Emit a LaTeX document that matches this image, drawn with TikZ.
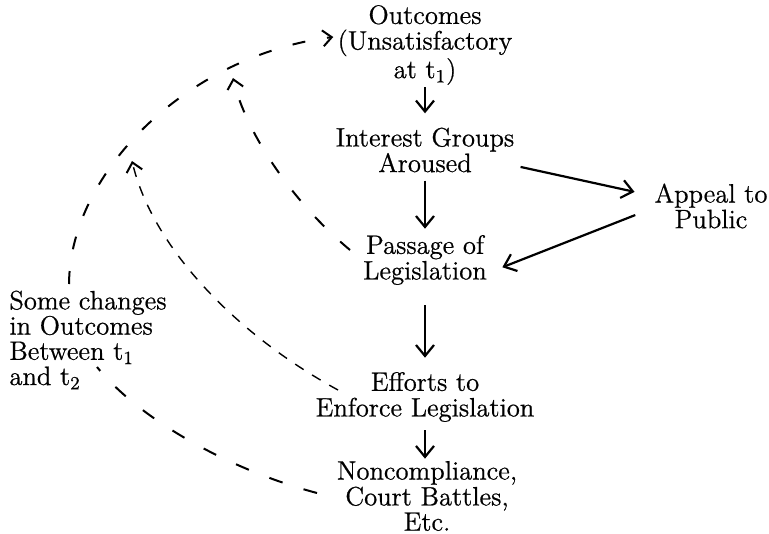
\documentclass[tikz,border=0pt]{standalone}
\usepackage{fontspec}
\setmainfont{Latin Modern Roman}[FakeBold=0.7]
\usetikzlibrary{arrows.meta}
\begin{document}
\begin{tikzpicture}[x=0.5pt,y=-0.5pt,
  lbl/.style={align=center, inner sep=2pt, font=\fontsize{13.3}{12.8}\selectfont},
  lblL/.style={align=left, inner sep=2pt, font=\fontsize{13.3}{12.6}\selectfont},
  arr/.style={line width=1.1pt, -{Straight Barb[length=5.5pt,width=9pt,line width=1.1pt]}},
  dsh/.style={line width=1pt, dash pattern=on 6.5pt off 11pt, -{Straight Barb[length=4.5pt,width=8pt,line width=1pt]}},
  dshfine/.style={line width=0.7pt, dash pattern=on 5pt off 5pt, -{Straight Barb[length=4.5pt,width=8pt,line width=1pt]}},
  dshplain/.style={line width=1pt, dash pattern=on 7pt off 11pt}
]
\useasboundingbox (0,0) rectangle (769,534);

\node[lbl] (out) at (425,45) {Outcomes\\(Unsatisfactory\\at t\textsubscript{1})};
\node[lbl] (int) at (425,150) {Interest Groups\\Aroused};
\node[lbl] (pass) at (425,260) {Passage of\\Legislation};
\node[lbl] (eff) at (425,397) {Efforts to\\Enforce Legislation};
\node[lbl, inner sep=0pt, font=\fontsize{13.3}{10.6}\selectfont] (non) at (427,496) {Noncompliance,\\Court Battles,\\Etc.};
\node[lbl] (app) at (711,206) {Appeal to\\Public};
\node[lblL, anchor=west] (some) at (5,340) {Some changes\\in Outcomes\\Between t\textsubscript{1}\\and t\textsubscript{2}};

\draw[arr, shorten <=-1pt, shorten >=5pt] (out.south) -- (int.north);
\draw[arr, shorten <=2pt, shorten >=1pt] (int.south) -- (pass.north);
\draw[arr, shorten <=8pt, shorten >=5pt] (pass.south) -- (eff.north);
\draw[arr, shorten <=2pt, shorten >=1pt] (eff.south) -- (eff.south |- non.north);
\draw[arr, shorten <=1pt, shorten >=8pt] (int.-10) -- (app.170);
\draw[arr, shorten <=8pt, shorten >=6pt] (app.183) -- (pass.-10);

\coordinate (s1) at (69,284);
\coordinate (p1) at (350,250);
\coordinate (e1) at (338,390);
\coordinate (n1) at (317,493);
\coordinate (s2) at (97,367);
\coordinate (m1) at (233,78);
\coordinate (m2) at (132,161);

\draw[dsh] (s1) .. controls (70,170) and (190,55) .. (out.west |- 0,37);
\draw[dsh] (p1) .. controls (290,200) and (245,130) .. (m1);
\draw[dshfine] (e1) .. controls (232,332) and (152,245) .. (m2);
\draw[dshplain] (n1) .. controls (230,470) and (140,420) .. (s2);
\end{tikzpicture}
\end{document}
